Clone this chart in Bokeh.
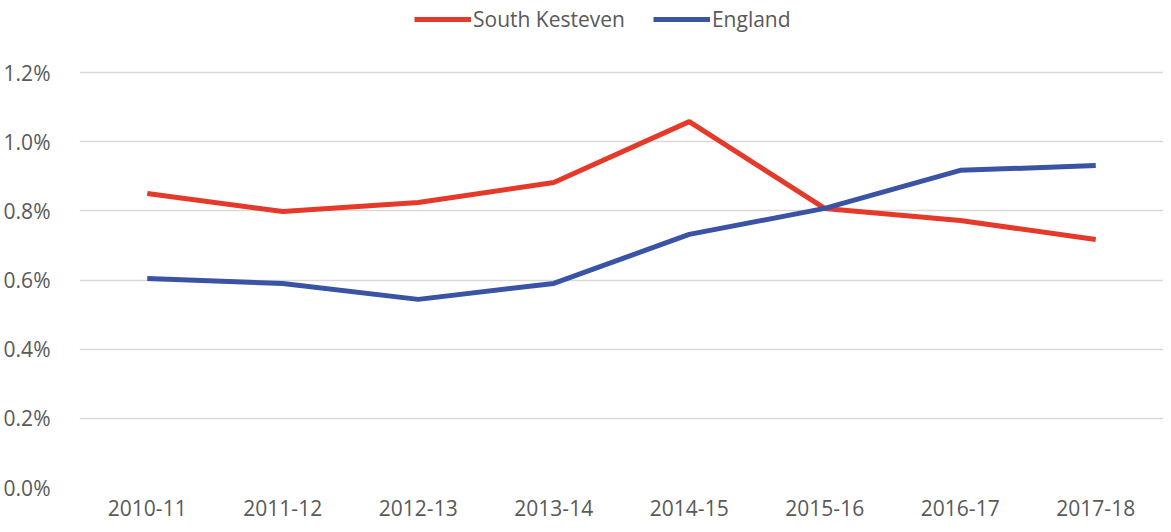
from bokeh.plotting import figure
from bokeh.models import ColumnDataSource, Legend, LegendItem, NumeralTickFormatter, FixedTicker, Range1d
from bokeh.embed import file_html
from bokeh.resources import INLINE

years = ["2010-11", "2011-12", "2012-13", "2013-14", "2014-15", "2015-16", "2016-17", "2017-18"]
south_kesteven = [0.00850, 0.00798, 0.00824, 0.00882, 0.01058, 0.00807, 0.00772, 0.00717]
england = [0.00604, 0.00590, 0.00544, 0.00590, 0.00732, 0.00807, 0.00917, 0.00931]
y_ticks = [0.0, 0.002, 0.004, 0.006, 0.008, 0.010, 0.012]

FONT = "Open Sans"
TXT = "#595959"

src = ColumnDataSource(dict(x=years, sk=south_kesteven, en=england))

# frame spans from y=4 to y=487 px; top of data area (1.2%) at y=72
y_top = 0.012 * (487 - 4) / (487 - 72)

p = figure(x_range=years, y_range=Range1d(0, y_top), width=1163, height=524,
           output_backend="svg", toolbar_location=None,
           min_border_left=78, min_border_right=0, min_border_top=4, min_border_bottom=37)
p.outline_line_color = None
p.background_fill_color = "white"
p.border_fill_color = "white"

r1 = p.line("x", "sk", source=src, line_color="#E53A2A", line_width=5)
r2 = p.line("x", "en", source=src, line_color="#3A53A4", line_width=5)

p.yaxis.ticker = FixedTicker(ticks=y_ticks)
p.yaxis.formatter = NumeralTickFormatter(format="0.0%")
for ax in (p.xaxis, p.yaxis):
    ax.axis_line_color = None
    ax.major_tick_line_color = None
    ax.minor_tick_line_color = None
    ax.major_label_text_font = FONT
    ax.major_label_text_font_size = "21px"
    ax.major_label_text_color = TXT
p.yaxis.major_label_standoff = 23
p.xaxis.major_label_standoff = 6

p.xgrid.grid_line_color = None
p.ygrid.grid_line_color = "#D9D9D9"
p.ygrid.grid_line_width = 1.5

legend = Legend(items=[LegendItem(label="South Kesteven", renderers=[r1]),
                       LegendItem(label="England", renderers=[r2])],
                orientation="horizontal", location=(335, 454),
                label_text_font=FONT, label_text_font_size="21px", label_text_color=TXT,
                glyph_width=57, glyph_height=20, label_standoff=2, spacing=28,
                padding=0, margin=0, border_line_color=None, background_fill_alpha=0)
p.add_layout(legend, "center")

open("out.html", "w").write(file_html(p, INLINE))
